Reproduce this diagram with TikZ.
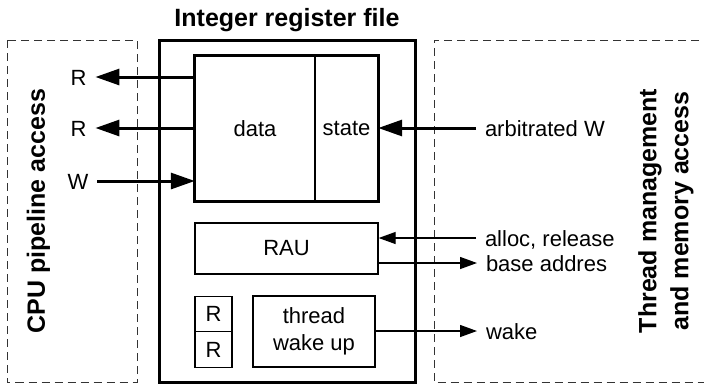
\documentclass[tikz,border=0pt]{standalone}
\usepackage{fontspec}
\setmainfont{Liberation Sans}
\usepackage{tikz}
\usetikzlibrary{arrows.meta,shapes}
\tikzstyle{txt}=[
	font=\fontsize{22}{27}\selectfont,
	inner sep=2pt
]
\tikzstyle{heading}=[
	font=\fontsize{25}{32}\selectfont\bfseries,
	inner sep=0pt,
	align=center
]
\tikzstyle{unit}=[
	txt,
	rectangle,
	draw=black,
	line width=1.3pt,
	inner sep=0pt,
	align=center
]
\tikzstyle{lbl}=[
	txt,
	text height=16pt,
	text depth=0pt,
	outer xsep=7pt
]
\tikzstyle{bus}=[
	-{Triangle[length=24pt,width=16pt]},
	line width=3pt,
	draw=black
]
\tikzstyle{sig}=[
	-{Triangle[length=17pt,width=12pt]},
	line width=1.3pt,
	draw=black
]
\tikzstyle{zone}=[
	draw=black!80,
	line width=1pt,
	dash pattern=on 8pt off 5pt
]

\begin{document}
\begin{tikzpicture}[x=1pt,y=-1pt]
\useasboundingbox (0,0) rectangle (704,384);

\draw[zone] (7,40) rectangle (137,382.5);
\draw[zone] (712,40) -- (434,40) -- (434,382.5) -- (712,382.5);
\node[heading, rotate=90] (cpu) at (38.5,211) {CPU pipeline access};
\node[heading, rotate=90] (tm) at (666,211) {Thread management\\and memory access};

\node[unit, line width=3pt, minimum width=256pt, minimum height=342pt] (irf) at (287,211) {};
\node[heading] (title) at (287,20) {Integer register file};

\node[txt, minimum width=120pt, minimum height=145pt, inner sep=0pt] (data) at (255,128.5) {data};
\node[txt, minimum width=63pt, minimum height=145pt, inner sep=0pt] (state) at (346.5,128.5) {state};
\draw[line width=3pt] (data.north west) rectangle (state.south east);
\draw[line width=2pt] (data.north east) -- (data.south east);

\node[unit, minimum width=183pt, minimum height=51pt] (rau) at (286.5,248.5) {RAU};
\node[unit, minimum width=37pt, minimum height=35.5pt] (rr1) at (213.5,314) {R};
\node[unit, minimum width=37pt, minimum height=35.5pt] (rr2) at (213.5,349.5) {R};
\node[unit, minimum width=122pt, minimum height=71pt] (twu) at (314,331.5) {thread\\wake up};

\node[lbl] (r1) at (78.5,77) {R};
\node[lbl] (r2) at (78.5,128) {R};
\node[lbl] (w) at (78,181) {W};
\node[lbl, anchor=west] (arb) at (476,128) {arbitrated W};
\node[lbl, anchor=west] (alloc) at (476,238) {alloc, release};
\node[lbl, anchor=west] (base) at (477,263) {base addres};
\node[lbl, anchor=west] (wake) at (477,331) {wake};

\draw[bus] (r1.east -| data.west) -- (r1.east);
\draw[bus] (r2.east -| data.west) -- (r2.east);
\draw[bus] (w.east) -- (w.east -| data.west);
\draw[bus] (arb.west) -- (arb.west -| state.east);

\draw[sig] (alloc.west) -- (alloc.west -| rau.east);
\draw[sig] (base.west -| rau.east) -- (base.west);
\draw[sig] (wake.west -| twu.east) -- (wake.west);
\end{tikzpicture}
\end{document}
